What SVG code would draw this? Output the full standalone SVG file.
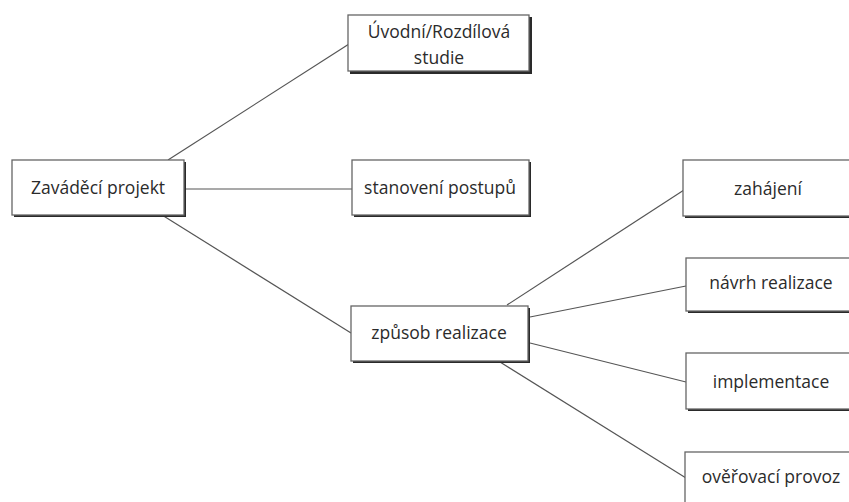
<svg xmlns="http://www.w3.org/2000/svg" width="849" height="502" viewBox="0 0 849 502">
  <style>
    .shadow { fill: #2a2a2a; }
    .box { fill: #ffffff; stroke: #666666; stroke-width: 1.3; }
    .lbl { font-family: "Open Sans", "Noto Sans", sans-serif; font-size: 17.5px; fill: #2b2b2b; text-anchor: middle; }
    .link { stroke: #555555; stroke-width: 1.2; fill: none; }
  </style>
  <rect width="849" height="502" fill="#ffffff"/>

  <g id="connectors">
    <line class="link" x1="168" y1="160" x2="349" y2="44"/>
    <line class="link" x1="185" y1="189" x2="352" y2="189"/>
    <line class="link" x1="162" y1="215" x2="351" y2="333"/>
    <line class="link" x1="507" y1="305" x2="684" y2="190"/>
    <line class="link" x1="530" y1="317" x2="686" y2="286"/>
    <line class="link" x1="530" y1="343" x2="686" y2="382"/>
    <line class="link" x1="500" y1="362" x2="686" y2="478"/>
  </g>

  <g id="uvodni">
    <rect class="shadow" x="350" y="17" width="182" height="57"/>
    <rect class="box" x="348" y="15" width="181" height="56"/>
    <text class="lbl" x="439" y="38">Úvodní/Rozdílová</text>
    <text class="lbl" x="439" y="64">studie</text>
  </g>

  <g id="zavadeci">
    <rect class="shadow" x="14" y="162" width="172" height="55"/>
    <rect class="box" x="12" y="160" width="172" height="55"/>
    <text class="lbl" x="98" y="194">Zaváděcí projekt</text>
  </g>

  <g id="stanoveni">
    <rect class="shadow" x="354" y="162" width="177" height="55"/>
    <rect class="box" x="352" y="160" width="177" height="55"/>
    <text class="lbl" x="440" y="194">stanovení postupů</text>
  </g>

  <g id="zpusob">
    <rect class="shadow" x="353" y="308" width="177" height="55"/>
    <rect class="box" x="351" y="306" width="177" height="55"/>
    <text class="lbl" x="439" y="339">způsob realizace</text>
  </g>

  <g id="zahajeni">
    <rect class="shadow" x="685" y="162" width="180" height="56"/>
    <rect class="box" x="683" y="160" width="180" height="56"/>
    <text class="lbl" x="768" y="195">zahájení</text>
  </g>

  <g id="navrh">
    <rect class="shadow" x="688" y="260" width="180" height="53"/>
    <rect class="box" x="686" y="258" width="180" height="53"/>
    <text class="lbl" x="771" y="289">návrh realizace</text>
  </g>

  <g id="implementace">
    <rect class="shadow" x="688" y="355" width="180" height="56"/>
    <rect class="box" x="686" y="353" width="180" height="56"/>
    <text class="lbl" x="771" y="388">implementace</text>
  </g>

  <g id="overovaci">
    <rect class="shadow" x="687" y="454" width="180" height="60"/>
    <rect class="box" x="685" y="452" width="180" height="60"/>
    <text class="lbl" x="771" y="483">ověřovací provoz</text>
  </g>
</svg>
